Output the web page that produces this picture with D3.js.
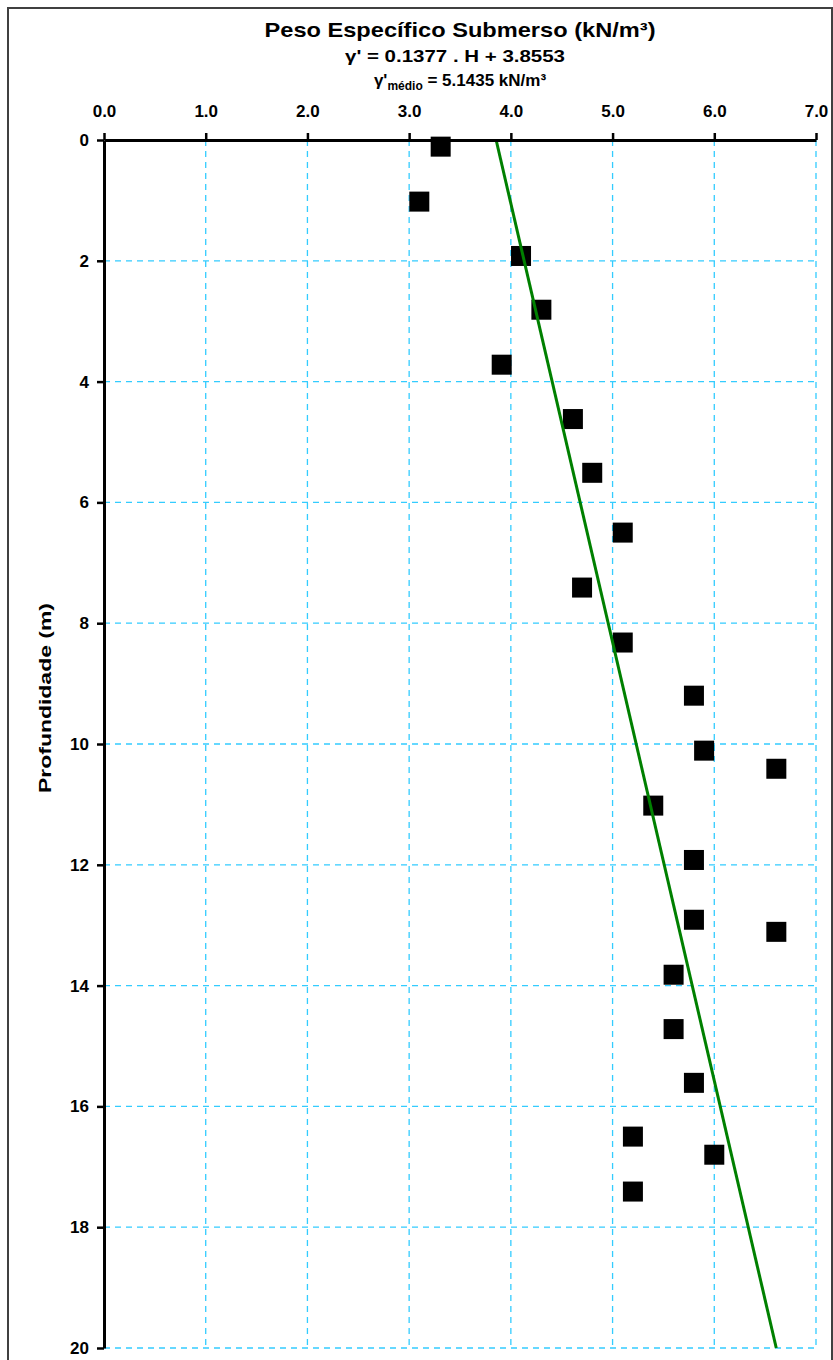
<!DOCTYPE html>
<html>
<head>
<meta charset="utf-8">
<script src="https://cdn.jsdelivr.net/npm/d3@7"></script>
<style>
body { margin: 0; background: #fff; }
text { font-family: Arial, "Liberation Sans", sans-serif; font-weight: bold; fill: #000; }
</style>
</head>
<body>
<div class="chart"></div>
<script>
// data
var depths = [0.11, 1.02, 1.92, 2.81, 3.72, 4.62, 5.51, 6.50, 7.41, 8.32, 9.20, 10.11,
              10.41, 11.02, 11.92, 12.91, 13.11, 13.82, 14.72, 15.61, 16.50, 16.80, 17.41];
var pesos = [3.31, 3.10, 4.10, 4.30, 3.91, 4.61, 4.80, 5.10, 4.70, 5.10, 5.80, 5.90,
             6.61, 5.40, 5.80, 5.80, 6.61, 5.60, 5.60, 5.80, 5.20, 6.00, 5.20];
var xTicks = [0, 1, 2, 3, 4, 5, 6, 7];
var yTicks = [0, 2, 4, 6, 8, 10, 12, 14, 16, 18, 20];
var slope = 0.1377;
var intercept = 3.8553;
var lineDepths = [0, 20];

var svgWidth = 833;
var svgHeight = 1360;

var margin = { top: 140, right: 17, bottom: 12, left: 104 };
var chartWidth = svgWidth - margin.left - margin.right;
var chartHeight = svgHeight - margin.top - margin.bottom;

var svg = d3.select(".chart")
  .append("svg")
  .attr("width", svgWidth)
  .attr("height", svgHeight);

// outer frame
svg.append("rect")
  .attr("x", 8).attr("y", 8)
  .attr("width", 824).attr("height", 1360)
  .attr("fill", "none")
  .attr("stroke", "#404040")
  .attr("stroke-width", 2);

var chartGroup = svg.append("g")
  .attr("transform", `translate(${margin.left}, ${margin.top})`);

var x = d3.scaleLinear().domain([0, 7]).range([0, chartWidth]);
var y = d3.scaleLinear().domain([0, 20]).range([0, chartHeight]);

// grid
chartGroup.selectAll(".vgrid")
  .data(xTicks.slice(1))
  .enter().append("line")
  .attr("x1", d => x(d)).attr("x2", d => x(d))
  .attr("y1", 0).attr("y2", chartHeight)
  .attr("stroke", "#33ccff")
  .attr("stroke-width", 1.3)
  .attr("stroke-dasharray", "6,5");

chartGroup.selectAll(".hgrid")
  .data(yTicks.slice(1))
  .enter().append("line")
  .attr("x1", 0).attr("x2", chartWidth)
  .attr("y1", d => y(d)).attr("y2", d => y(d))
  .attr("stroke", "#33ccff")
  .attr("stroke-width", 1.3)
  .attr("stroke-dasharray", "6,5");

// markers
chartGroup.selectAll(".pt")
  .data(depths)
  .enter().append("rect")
  .attr("x", (d, i) => x(pesos[i]) - 10)
  .attr("y", d => y(d) - 10)
  .attr("width", 20).attr("height", 20)
  .attr("fill", "#000");

// trend line
var trend = d3.line()
  .x(d => x(slope * d + intercept))
  .y(d => y(d));

chartGroup.append("path")
  .datum(lineDepths)
  .attr("d", trend)
  .attr("fill", "none")
  .attr("stroke", "#008000")
  .attr("stroke-width", 3);

// axes
var topAxis = d3.axisTop(x).tickValues(xTicks).tickFormat(d3.format(".1f"))
  .tickSizeInner(7).tickSizeOuter(0).tickPadding(16);
var leftAxis = d3.axisLeft(y).tickValues(yTicks)
  .tickSizeInner(7).tickSizeOuter(0).tickPadding(8);

var gx = chartGroup.append("g").call(topAxis);
var gy = chartGroup.append("g").call(leftAxis);

[gx, gy].forEach(function(g) {
  g.select(".domain").attr("stroke", "#000").attr("stroke-width", 3);
  g.selectAll(".tick line").attr("stroke", "#000").attr("stroke-width", 2.5);
  g.selectAll(".tick text")
    .attr("font-size", 17)
    .attr("font-family", "Arial, 'Liberation Sans', sans-serif")
    .attr("font-weight", "bold")
    .attr("fill", "#000");
});

// titles
svg.append("text")
  .attr("x", 460).attr("y", 37)
  .attr("text-anchor", "middle")
  .attr("font-size", 21)
  .attr("textLength", 391)
  .attr("lengthAdjust", "spacingAndGlyphs")
  .text("Peso Específico Submerso (kN/m³)");

svg.append("text")
  .attr("x", 455).attr("y", 62)
  .attr("text-anchor", "middle")
  .attr("font-size", 16)
  .attr("textLength", 220)
  .attr("lengthAdjust", "spacingAndGlyphs")
  .text("γ' = 0.1377 . H + 3.8553");

var sub = svg.append("text")
  .attr("x", 460).attr("y", 86)
  .attr("text-anchor", "middle")
  .attr("font-size", 17);
sub.append("tspan").text("γ'");
sub.append("tspan").attr("font-size", 12).attr("dy", 4).text("médio");
sub.append("tspan").attr("dy", -4).text(" = 5.1435 kN/m³");

svg.append("text")
  .attr("transform", "translate(51, 698) rotate(-90)")
  .attr("text-anchor", "middle")
  .attr("font-size", 16)
  .attr("textLength", 190)
  .attr("lengthAdjust", "spacingAndGlyphs")
  .text("Profundidade (m)");
</script>
</body>
</html>
